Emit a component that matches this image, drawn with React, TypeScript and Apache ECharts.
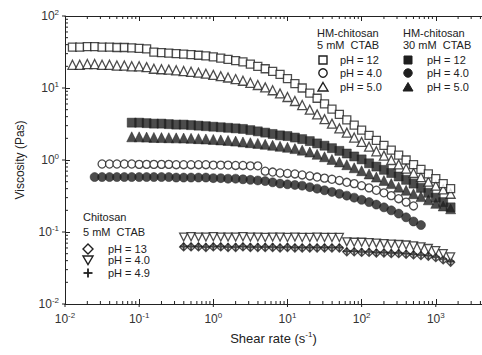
import React, { useEffect, useRef } from 'react';
import * as echarts from 'echarts';

// Shear-rate grid (s^-1), ten points per decade as measured
const SHEAR = [0.0126, 0.0158, 0.02, 0.0251, 0.0316, 0.0398, 0.0501, 0.0631, 0.0794, 0.1,
  0.126, 0.158, 0.2, 0.251, 0.316, 0.398, 0.501, 0.631, 0.794, 1,
  1.26, 1.58, 2, 2.51, 3.16, 3.98, 5.01, 6.31, 7.94, 10,
  12.6, 15.8, 20, 25.1, 31.6, 39.8, 50.1, 63.1, 79.4, 100,
  126, 158, 200, 251, 316, 398, 501, 631, 794, 1000, 1259, 1585];

// HM-chitosan, 5 mM CTAB
const HM5_PH12_START = 0;
const HM5_PH12 = [37, 37, 37.5, 37.5, 37, 37, 36.5, 36.5, 36, 35.5, 35, 31.5, 31, 30.5, 30, 29.5, 29, 28.5, 28, 27,
  26, 25, 24, 23, 21.5, 20, 18.5, 17, 15.5, 13.5, 11.5, 10, 8.5, 7.2, 6.0, 5.1, 4.3, 3.6, 3.05, 2.6,
  2.2, 1.87, 1.6, 1.37, 1.17, 1.0, 0.86, 0.74, 0.64, 0.55, 0.47, 0.40];
const HM5_PH4_START = 4;
const HM5_PH4 = [0.88, 0.88, 0.88, 0.88, 0.88, 0.87, 0.87, 0.87, 0.87, 0.87, 0.86, 0.86, 0.86, 0.86, 0.86, 0.85,
  0.85, 0.85, 0.84, 0.84, 0.83, 0.83, 0.70, 0.68, 0.66, 0.65, 0.64, 0.62, 0.6, 0.58, 0.56, 0.54, 0.52,
  0.49, 0.47, 0.44, 0.41, 0.38, 0.35, 0.32, 0.29, 0.26, 0.23];
const HM5_PH5_START = 0;
const HM5_PH5 = [21, 21, 21.5, 21.5, 21, 21, 20.5, 20.5, 20, 20, 19.5, 18.5, 18.2, 18, 17.6, 17.2, 16.8, 16.3, 15.8, 15.2,
  14.6, 14.0, 13.3, 12.6, 11.8, 11.0, 10.2, 9.3, 8.4, 7.5, 6.6, 5.8, 5.0, 4.3, 3.7, 3.2, 2.75, 2.4, 2.05, 1.78,
  1.53, 1.32, 1.15, 1.0, 0.87, 0.76, 0.66, 0.58, 0.5, 0.44, 0.39, 0.34];

// HM-chitosan, 30 mM CTAB
const HM30_PH12_START = 8;
const HM30_PH12 = [3.3, 3.3, 3.25, 3.2, 3.2, 3.15, 3.1, 3.1, 3.05, 3.0, 2.95, 2.9, 2.85, 2.8, 2.75, 2.7, 2.6, 2.5, 2.4, 2.3,
  2.2, 2.15, 2.05, 1.95, 1.83, 1.7, 1.58, 1.46, 1.34, 1.23, 1.12, 1.02, 0.9, 0.81, 0.73, 0.66, 0.59, 0.53, 0.47, 0.41,
  0.35, 0.30, 0.26, 0.22];
const HM30_PH4_START = 3;
const HM30_PH4 = [0.58, 0.58, 0.58, 0.58, 0.58, 0.58, 0.58, 0.58, 0.58, 0.58, 0.58, 0.57, 0.57, 0.57, 0.57, 0.57, 0.56, 0.56,
  0.55, 0.55, 0.54, 0.53, 0.52, 0.51, 0.49, 0.47, 0.46, 0.45, 0.44, 0.42, 0.40, 0.38, 0.36, 0.34, 0.32, 0.30,
  0.28, 0.26, 0.24, 0.22, 0.2, 0.18, 0.16, 0.14, 0.125];
const HM30_PH5_START = 8;
const HM30_PH5 = [2.1, 2.1, 2.08, 2.06, 2.05, 2.04, 2.03, 2.02, 2.0, 1.98, 1.96, 1.93, 1.9, 1.87, 1.83, 1.78, 1.74, 1.7, 1.65, 1.6,
  1.55, 1.5, 1.44, 1.37, 1.29, 1.2, 1.11, 1.02, 0.94, 0.86, 0.78, 0.71, 0.64, 0.58, 0.52, 0.47, 0.42, 0.38, 0.34, 0.31,
  0.28, 0.25, 0.23, 0.21];

// Chitosan, 5 mM CTAB
const CH_START = 15;
const CH_PH13 = [0.062, 0.062, 0.062, 0.061, 0.062, 0.062, 0.061, 0.061, 0.062, 0.061, 0.061, 0.061, 0.061, 0.06, 0.061,
  0.06, 0.06, 0.06, 0.06, 0.06, 0.06, 0.06, 0.053, 0.053, 0.052, 0.052, 0.051, 0.051, 0.05, 0.05, 0.049, 0.048,
  0.047, 0.046, 0.044, 0.041, 0.038];
const CH_PH4 = [0.085, 0.086, 0.085, 0.085, 0.086, 0.085, 0.085, 0.085, 0.086, 0.085, 0.085, 0.084, 0.085, 0.085, 0.084,
  0.085, 0.084, 0.084, 0.085, 0.084, 0.084, 0.084, 0.073, 0.072, 0.072, 0.071, 0.07, 0.069, 0.068, 0.067, 0.066, 0.064,
  0.062, 0.059, 0.055, 0.05, 0.045];
const CH_PH49 = [0.063, 0.063, 0.063, 0.062, 0.063, 0.063, 0.062, 0.062, 0.063, 0.062, 0.062, 0.062, 0.062, 0.061, 0.062,
  0.061, 0.061, 0.061, 0.061, 0.061, 0.061, 0.061, 0.054, 0.054, 0.053, 0.053, 0.052, 0.052, 0.051, 0.051, 0.05, 0.049,
  0.048, 0.047, 0.045, 0.042, 0.039];

const X_MIN = 0.01;
const X_MAX = 4200;
const Y_MIN = 0.01;
const Y_MAX = 100;

const FONT = '"Liberation Sans", Arial, Helvetica, sans-serif';
const INK = '#1f1f1f';
const PLUS = 'path://M4,0L6,0L6,4L10,4L10,6L6,6L6,10L4,10L4,6L0,6L0,4L4,4Z';

function pts(start: number, vals: number[]) {
  return vals.map((v, i) => [SHEAR[start + i], v]);
}

function supLabel(v: number) {
  const e = Math.round(Math.log10(v));
  return `{b|10}{s|${e}}`;
}

const labelRich = {
  b: { fontSize: 12, fontFamily: FONT, color: '#333' },
  s: { fontSize: 8, fontFamily: FONT, color: '#333', padding: [0, 0, 8, 0] },
};

function tickData() {
  const d: number[][] = [];
  for (let n = -2; n <= 3; n++) {
    for (let k = 2; k <= 9; k++) {
      const v = k * Math.pow(10, n);
      if (v < X_MAX) {
        d.push([v, Y_MIN, 0]);
        d.push([v, Y_MAX, 1]);
      }
    }
  }
  for (let n = -2; n <= 1; n++) {
    for (let k = 2; k <= 9; k++) {
      d.push([X_MIN, k * Math.pow(10, n), 2]);
    }
  }
  for (let n = -2; n <= 3; n++) d.push([Math.pow(10, n), Y_MIN, 3]);
  for (let n = -2; n <= 2; n++) d.push([X_MIN, Math.pow(10, n), 4]);
  return d;
}

function scatter(name: string, data: number[][], symbol: string, filled: boolean, size: number, rotate = 0, z = 3) {
  return {
    type: 'scatter',
    name,
    data,
    symbol,
    symbolSize: size,
    symbolRotate: rotate,
    z,
    itemStyle: filled
      ? { color: INK, borderColor: INK, borderWidth: 0.6 }
      : { color: '#ffffff', borderColor: INK, borderWidth: 1.3 },
    emphasis: { disabled: true },
  };
}

function legendText(text: string, x: number, y: number) {
  return {
    type: 'text',
    x,
    y,
    style: { text, fill: '#222', fontSize: 11, fontFamily: FONT, verticalAlign: 'middle', align: 'left' },
  };
}

function mark(kind: string, x: number, y: number, filled: boolean) {
  const style = filled ? { fill: INK, stroke: INK, lineWidth: 1 } : { fill: '#fff', stroke: INK, lineWidth: 1.4 };
  if (kind === 'rect') return { type: 'rect', shape: { x: x - 4, y: y - 4, width: 8, height: 8 }, style };
  if (kind === 'circle') return { type: 'circle', shape: { cx: x, cy: y, r: 4.2 }, style };
  if (kind === 'tri') return { type: 'polygon', shape: { points: [[x, y - 4.5], [x + 5, y + 4], [x - 5, y + 4]] }, style };
  if (kind === 'tridown') return { type: 'polygon', shape: { points: [[x - 5, y - 4], [x + 5, y - 4], [x, y + 4.5]] }, style };
  if (kind === 'diamond') return { type: 'polygon', shape: { points: [[x, y - 5], [x + 5, y], [x, y + 5], [x - 5, y]] }, style };
  // plus
  return {
    type: 'group',
    children: [
      { type: 'rect', shape: { x: x - 4.5, y: y - 0.9, width: 9, height: 1.8 }, style: { fill: INK } },
      { type: 'rect', shape: { x: x - 0.9, y: y - 4.5, width: 1.8, height: 9 }, style: { fill: INK } },
    ],
  };
}

export default function App() {
  const ref = useRef<HTMLDivElement>(null);
  useEffect(() => {
    if (!ref.current) return;
    const chart = echarts.init(ref.current, undefined, { renderer: 'svg' });
    const axisLine = { show: true, onZero: false, lineStyle: { color: '#222', width: 1 } };
    const option = {
      animation: false,
      backgroundColor: '#ffffff',
      grid: { left: 65, right: 0, top: 16, bottom: 51, containLabel: false },
      xAxis: [
        {
          type: 'log',
          logBase: 10,
          min: X_MIN,
          max: X_MAX,
          position: 'bottom',
          axisLine,
          axisTick: { inside: true, length: 5, lineStyle: { color: '#222' } },
          splitLine: { show: false },
          axisLabel: { formatter: supLabel, rich: labelRich, margin: 7, showMaxLabel: false },
          name: '{a|Shear rate (s}{s|-1}{a|)}',
          nameLocation: 'middle',
          nameGap: 26,
          nameTextStyle: {
            rich: {
              a: { fontSize: 13, fontFamily: FONT, color: '#222' },
              s: { fontSize: 8, fontFamily: FONT, color: '#222', padding: [0, 0, 8, 0] },
            },
          },
        },
        {
          type: 'log',
          logBase: 10,
          min: X_MIN,
          max: X_MAX,
          position: 'top',
          axisLine,
          axisTick: { inside: true, length: 5, lineStyle: { color: '#222' } },
          splitLine: { show: false },
          axisLabel: { show: false },
        },
      ],
      yAxis: [
        {
          type: 'log',
          logBase: 10,
          min: Y_MIN,
          max: Y_MAX,
          axisLine,
          axisTick: { inside: true, length: 5, lineStyle: { color: '#222' } },
          splitLine: { show: false },
          axisLabel: { formatter: supLabel, rich: labelRich, margin: 6 },
          name: 'Viscosity (Pas)',
          nameLocation: 'middle',
          nameRotate: 90,
          nameGap: 39,
          nameTextStyle: { fontSize: 12, fontFamily: FONT, color: '#222' },
        },
      ],
      series: [
        {
          type: 'custom',
          silent: true,
          clip: false,
          z: 1,
          data: tickData(),
          encode: { x: 0, y: 1 },
          renderItem: (_p: any, api: any) => {
            const kind = api.value(2);
            const p = api.coord([api.value(0), api.value(1)]);
            const x1 = p[0];
            const y1 = p[1];
            let x2 = x1;
            let y2 = y1;
            if (kind === 0) y2 = y1 - 3;
            else if (kind === 1) y2 = y1 + 3;
            else if (kind === 2) x2 = x1 + 3;
            else if (kind === 3) y2 = y1 + 3;
            else x2 = x1 - 3;
            return { type: 'line', shape: { x1, y1, x2, y2 }, style: { stroke: '#222', lineWidth: 1 } };
          },
        },
        scatter('HM-chitosan 30 mM CTAB pH = 12', pts(HM30_PH12_START, HM30_PH12), 'rect', true, 9),
        scatter('HM-chitosan 30 mM CTAB pH = 5.0', pts(HM30_PH5_START, HM30_PH5), 'triangle', true, 10),
        scatter('HM-chitosan 30 mM CTAB pH = 4.0', pts(HM30_PH4_START, HM30_PH4), 'circle', true, 9),
        scatter('HM-chitosan 5 mM CTAB pH = 4.0', pts(HM5_PH4_START, HM5_PH4), 'circle', false, 8, 0, 4),
        scatter('HM-chitosan 5 mM CTAB pH = 5.0', pts(HM5_PH5_START, HM5_PH5), 'triangle', false, 9, 0, 4),
        scatter('HM-chitosan 5 mM CTAB pH = 12', pts(HM5_PH12_START, HM5_PH12), 'rect', false, 8, 0, 4),
        scatter('Chitosan 5 mM CTAB pH = 13', pts(CH_START, CH_PH13), 'diamond', false, 8),
        scatter('Chitosan 5 mM CTAB pH = 4.9', pts(CH_START, CH_PH49), PLUS, true, 7),
        scatter('Chitosan 5 mM CTAB pH = 4.0', pts(CH_START, CH_PH4), 'triangle', false, 8, 180, 4),
      ],
      graphic: [
        legendText('HM-chitosan', 317, 33),
        legendText('5 mM  CTAB', 317, 45),
        mark('rect', 323, 60, false),
        legendText('pH = 12', 340, 60),
        mark('circle', 323, 73, false),
        legendText('pH = 4.0', 340, 73),
        mark('tri', 323, 87, false),
        legendText('pH = 5.0', 340, 87),
        legendText('HM-chitosan', 403, 33),
        legendText('30 mM  CTAB', 403, 45),
        mark('rect', 408, 60, true),
        legendText('pH = 12', 427, 60),
        mark('circle', 408, 73, true),
        legendText('pH = 4.0', 427, 73),
        mark('tri', 408, 87, true),
        legendText('pH = 5.0', 427, 87),
        legendText('Chitosan', 83, 217),
        legendText('5 mM  CTAB', 83, 232),
        mark('diamond', 88, 249, false),
        legendText('pH = 13', 108, 249),
        mark('tridown', 88, 260, false),
        legendText('pH = 4.0', 108, 260),
        mark('plus', 88, 273, true),
        legendText('pH = 4.9', 108, 273),
      ],
    };
    chart.setOption(option as any);
    return () => chart.dispose();
  }, []);
  return (
    <div
      ref={ref}
      style={{ position: 'fixed', left: 0, top: 0, width: 482, height: 355, background: '#fff' }}
    />
  );
}
